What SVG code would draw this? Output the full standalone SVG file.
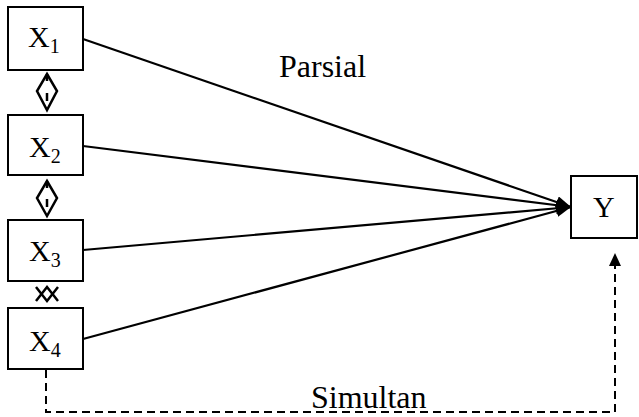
<svg xmlns="http://www.w3.org/2000/svg" width="639" height="417" viewBox="0 0 639 417">
<style>
.box{fill:#fff;stroke:#000;stroke-width:2}
.ln{stroke:#000;stroke-width:2.2;fill:none}
.dash{stroke:#000;stroke-width:2;fill:none;stroke-dasharray:8 5}
.da{stroke:#000;stroke-width:2.5;fill:#fff}
.tk{stroke:#000;stroke-width:2.5}
text{font-family:"Liberation Serif","Times New Roman",serif;fill:#000}
.lbl{font-size:30px}
.sub{font-size:20px}
.big{font-size:32px}
</style>
<defs>
<marker id="ah" markerWidth="15" markerHeight="12" refX="15" refY="6" orient="auto" markerUnits="userSpaceOnUse">
<path d="M0,0 L15,6 L0,12 Z" fill="#000"/>
</marker>
</defs>
<g id="connectors">
<line class="ln" x1="83" y1="39" x2="571" y2="207" marker-end="url(#ah)"/>
<line class="ln" x1="83" y1="146" x2="571" y2="207" marker-end="url(#ah)"/>
<line class="ln" x1="83" y1="250" x2="571" y2="207" marker-end="url(#ah)"/>
<line class="ln" x1="83" y1="339" x2="571" y2="207" marker-end="url(#ah)"/>
<polyline class="dash" points="46,370 46,412 615,412 615,266"/>
<path d="M615,253 L621,266 L609,266 Z" fill="#000"/>
<g id="x1x2">
<path class="da" d="M47,74 L57,91 L47,110 L37,91 Z"/>
<line class="tk" x1="47" y1="74" x2="47" y2="81"/>
<line class="tk" x1="47" y1="93" x2="47" y2="101"/>
</g>
<g id="x2x3">
<path class="da" d="M47,181 L57,198 L47,216 L37,198 Z"/>
<line class="tk" x1="47" y1="181" x2="47" y2="188"/>
<line class="tk" x1="47" y1="199" x2="47" y2="207"/>
</g>
<g id="x3x4">
<polyline class="da" fill="none" style="fill:none" points="36,301 47,287 58,301"/>
<polyline class="da" style="fill:none" points="36,287 47,301 58,287"/>
</g>
</g>
<g id="X1">
<rect class="box" x="8" y="7" width="75" height="63"/>
<text class="lbl" x="28" y="47">X<tspan class="sub" dy="6">1</tspan></text>
</g>
<g id="X2">
<rect class="box" x="8" y="115" width="75" height="60"/>
<text class="lbl" x="29" y="157">X<tspan class="sub" dy="6">2</tspan></text>
</g>
<g id="X3">
<rect class="box" x="8" y="220" width="75" height="61"/>
<text class="lbl" x="29" y="261">X<tspan class="sub" dy="6">3</tspan></text>
</g>
<g id="X4">
<rect class="box" x="8" y="308" width="75" height="61"/>
<text class="lbl" x="29" y="351">X<tspan class="sub" dy="6">4</tspan></text>
</g>
<g id="Y">
<rect class="box" x="571" y="176" width="66" height="62"/>
<text class="lbl" x="593" y="217">Y</text>
</g>
<text class="big" x="279" y="77">Parsial</text>
<text class="big" x="311" y="408">Simultan</text>
</svg>
